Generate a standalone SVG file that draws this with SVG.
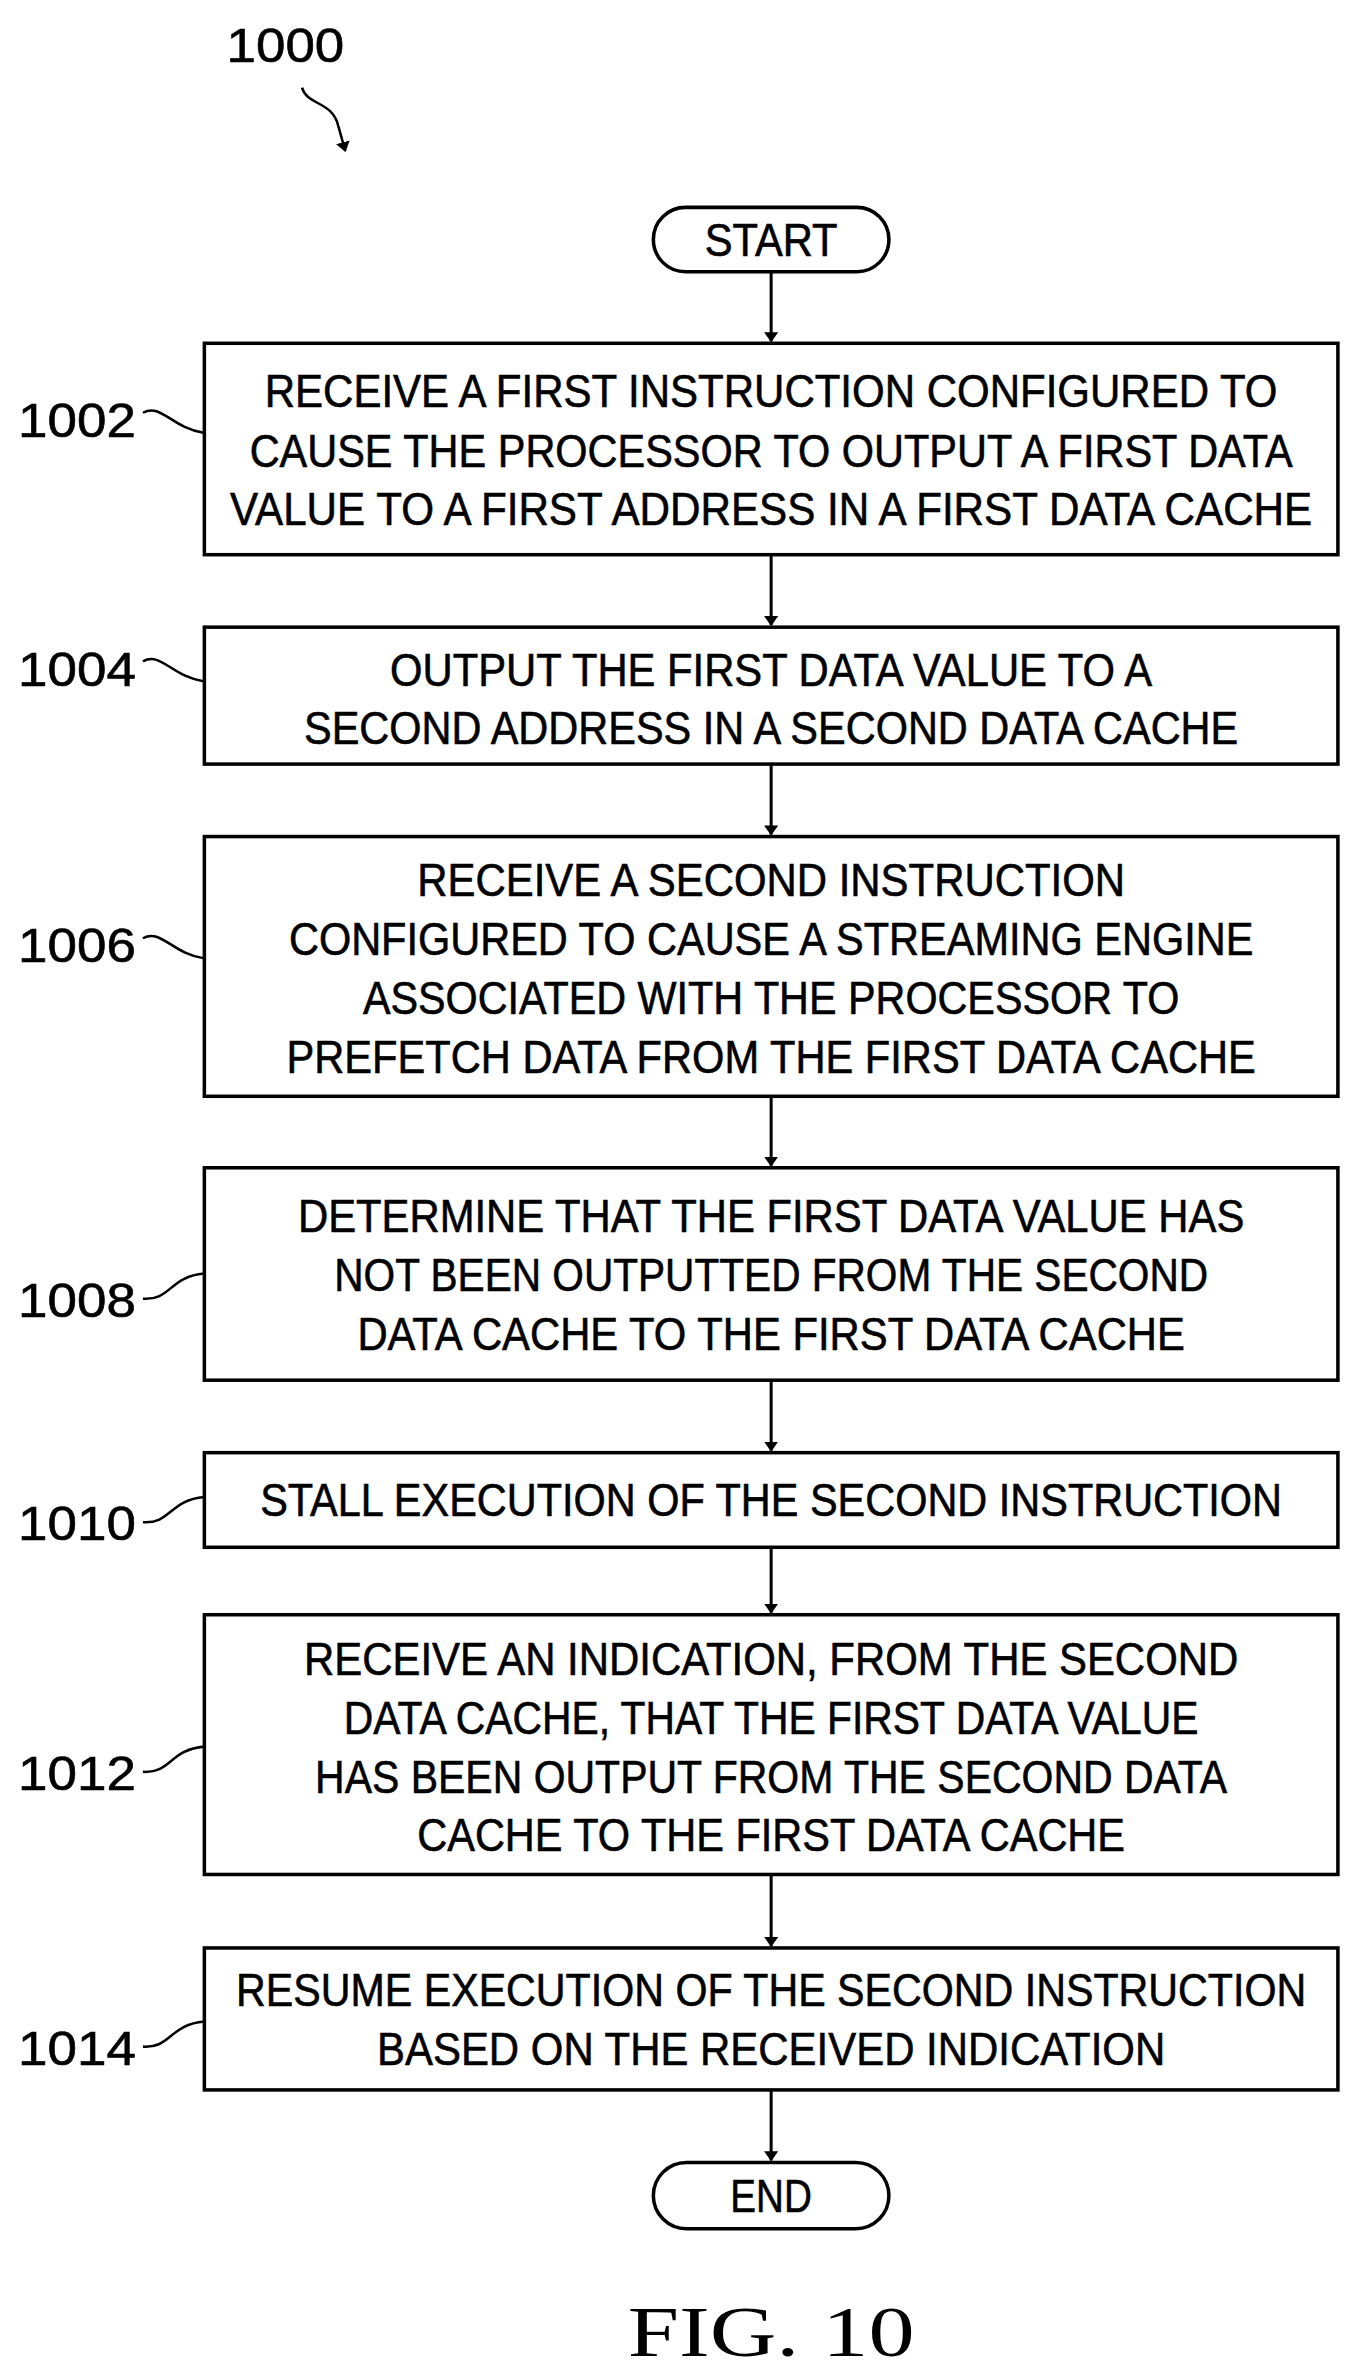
<svg xmlns="http://www.w3.org/2000/svg" width="1361" height="2372" viewBox="0 0 1361 2372">
<style>
.b{fill:#fff;stroke:#000;stroke-width:3.5}
.t{font-family:"Liberation Sans",Arial,sans-serif;font-size:46px;text-anchor:middle;fill:#000;stroke:#000;stroke-width:0.6}
.l{font-family:"Liberation Sans",Arial,sans-serif;font-size:48px;fill:#000;stroke:#000;stroke-width:0.6}
.c{fill:none;stroke:#000;stroke-width:3}
.s{fill:none;stroke:#000;stroke-width:2.5}
</style>
<defs><marker id="a" markerWidth="10" markerHeight="14" refX="9" refY="7" orient="auto" markerUnits="userSpaceOnUse" viewBox="0 0 10 14"><path d="M0,0 L10,7 L0,14 Z" fill="#000"/></marker></defs>
<rect width="1361" height="2372" fill="#fff"/>
<g transform="scale(1.0067)">
<g id="ref1000"><text class="l" x="225" y="62" textLength="117" lengthAdjust="spacingAndGlyphs">1000</text>
<path class="s" d="M300,87 C305,105 330,100 336,125 L343,150" marker-end="url(#a)"/></g>
<g id="connectors" class="c">
<line x1="766" y1="270" x2="766" y2="339" marker-end="url(#a)"/>
<line x1="766" y1="551" x2="766" y2="621" marker-end="url(#a)"/>
<line x1="766" y1="759" x2="766" y2="829" marker-end="url(#a)"/>
<line x1="766" y1="1089" x2="766" y2="1158" marker-end="url(#a)"/>
<line x1="766" y1="1371" x2="766" y2="1441" marker-end="url(#a)"/>
<line x1="766" y1="1537" x2="766" y2="1602" marker-end="url(#a)"/>
<line x1="766" y1="1862" x2="766" y2="1933" marker-end="url(#a)"/>
<line x1="766" y1="2076" x2="766" y2="2146" marker-end="url(#a)"/>
</g>
<g id="start"><rect class="b" x="649" y="206" width="234" height="64" rx="32"/><text class="t" x="766" y="254" textLength="132" lengthAdjust="spacingAndGlyphs">START</text></g>
<g id="n1002"><rect class="b" x="203" y="341" width="1126" height="210"/>
<text class="t" x="766" y="404" textLength="1006" lengthAdjust="spacingAndGlyphs">RECEIVE A FIRST INSTRUCTION CONFIGURED TO</text>
<text class="t" x="766" y="464" textLength="1036" lengthAdjust="spacingAndGlyphs">CAUSE THE PROCESSOR TO OUTPUT A FIRST DATA</text>
<text class="t" x="766" y="522" textLength="1075" lengthAdjust="spacingAndGlyphs">VALUE TO A FIRST ADDRESS IN A FIRST DATA CACHE</text>
<text class="l" x="18" y="434" textLength="117" lengthAdjust="spacingAndGlyphs">1002</text><path class="s" d="M142,410 C160,400 170,425 203,430"/></g>
<g id="n1004"><rect class="b" x="203" y="623" width="1126" height="136"/>
<text class="t" x="766" y="681" textLength="757" lengthAdjust="spacingAndGlyphs">OUTPUT THE FIRST DATA VALUE TO A</text>
<text class="t" x="766" y="739" textLength="928" lengthAdjust="spacingAndGlyphs">SECOND ADDRESS IN A SECOND DATA CACHE</text>
<text class="l" x="18" y="681" textLength="117" lengthAdjust="spacingAndGlyphs">1004</text><path class="s" d="M142,657 C160,647 170,672 203,677"/></g>
<g id="n1006"><rect class="b" x="203" y="831" width="1126" height="258"/>
<text class="t" x="766" y="890" textLength="703" lengthAdjust="spacingAndGlyphs">RECEIVE A SECOND INSTRUCTION</text>
<text class="t" x="766" y="949" textLength="958" lengthAdjust="spacingAndGlyphs">CONFIGURED TO CAUSE A STREAMING ENGINE</text>
<text class="t" x="766" y="1007" textLength="811" lengthAdjust="spacingAndGlyphs">ASSOCIATED WITH THE PROCESSOR TO</text>
<text class="t" x="766" y="1066" textLength="963" lengthAdjust="spacingAndGlyphs">PREFETCH DATA FROM THE FIRST DATA CACHE</text>
<text class="l" x="18" y="956" textLength="117" lengthAdjust="spacingAndGlyphs">1006</text><path class="s" d="M142,932 C160,922 170,947 203,952"/></g>
<g id="n1008"><rect class="b" x="203" y="1160" width="1126" height="211"/>
<text class="t" x="766" y="1224" textLength="940" lengthAdjust="spacingAndGlyphs">DETERMINE THAT THE FIRST DATA VALUE HAS</text>
<text class="t" x="766" y="1282" textLength="868" lengthAdjust="spacingAndGlyphs">NOT BEEN OUTPUTTED FROM THE SECOND</text>
<text class="t" x="766" y="1341" textLength="822" lengthAdjust="spacingAndGlyphs">DATA CACHE TO THE FIRST DATA CACHE</text>
<text class="l" x="18" y="1308" textLength="117" lengthAdjust="spacingAndGlyphs">1008</text><path class="s" d="M142,1290 C170,1292 168,1268 203,1265"/></g>
<g id="n1010"><rect class="b" x="203" y="1443" width="1126" height="94"/>
<text class="t" x="766" y="1506" textLength="1015" lengthAdjust="spacingAndGlyphs">STALL EXECUTION OF THE SECOND INSTRUCTION</text>
<text class="l" x="18" y="1530" textLength="117" lengthAdjust="spacingAndGlyphs">1010</text><path class="s" d="M142,1512 C170,1514 168,1490 203,1487"/></g>
<g id="n1012"><rect class="b" x="203" y="1604" width="1126" height="258"/>
<text class="t" x="766" y="1664" textLength="928" lengthAdjust="spacingAndGlyphs">RECEIVE AN INDICATION, FROM THE SECOND</text>
<text class="t" x="766" y="1722" textLength="849" lengthAdjust="spacingAndGlyphs">DATA CACHE, THAT THE FIRST DATA VALUE</text>
<text class="t" x="766" y="1781" textLength="906" lengthAdjust="spacingAndGlyphs">HAS BEEN OUTPUT FROM THE SECOND DATA</text>
<text class="t" x="766" y="1839" textLength="703" lengthAdjust="spacingAndGlyphs">CACHE TO THE FIRST DATA CACHE</text>
<text class="l" x="18" y="1778" textLength="117" lengthAdjust="spacingAndGlyphs">1012</text><path class="s" d="M142,1760 C170,1762 168,1738 203,1735"/></g>
<g id="n1014"><rect class="b" x="203" y="1935" width="1126" height="141"/>
<text class="t" x="766" y="1993" textLength="1063" lengthAdjust="spacingAndGlyphs">RESUME EXECUTION OF THE SECOND INSTRUCTION</text>
<text class="t" x="766" y="2051" textLength="783" lengthAdjust="spacingAndGlyphs">BASED ON THE RECEIVED INDICATION</text>
<text class="l" x="18" y="2051" textLength="117" lengthAdjust="spacingAndGlyphs">1014</text><path class="s" d="M142,2033 C170,2035 168,2011 203,2008"/></g>
<g id="end"><rect class="b" x="649" y="2148" width="234" height="66" rx="33"/><text class="t" x="766" y="2197" textLength="81" lengthAdjust="spacingAndGlyphs">END</text></g>
<text x="766" y="2340" font-family="'Liberation Serif','Times New Roman',serif" font-size="72" text-anchor="middle" textLength="285" lengthAdjust="spacingAndGlyphs">FIG. 10</text>
</g>
</svg>
